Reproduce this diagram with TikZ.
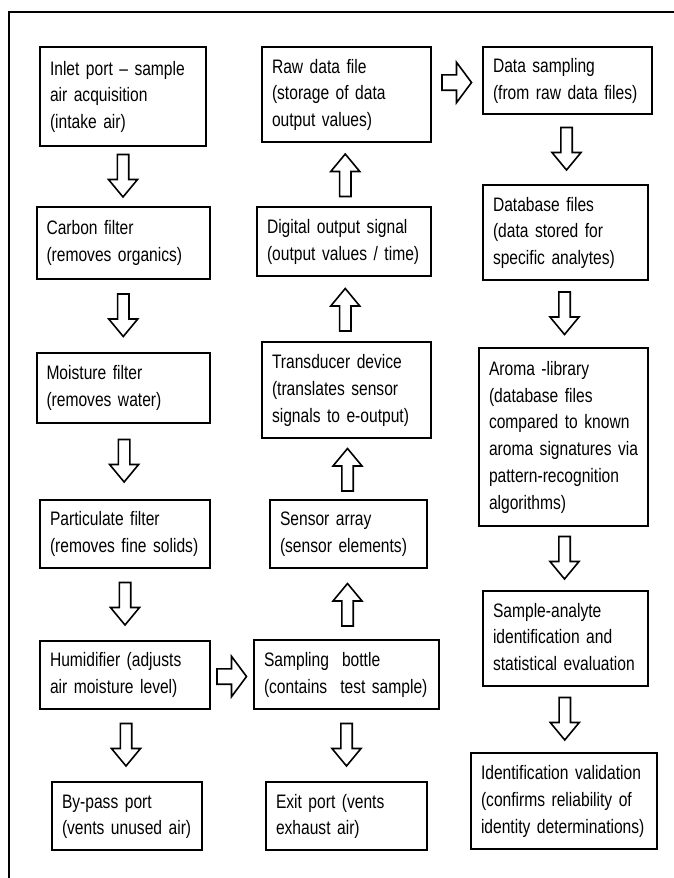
\documentclass[tikz,border=0pt]{standalone}
\usepackage{fontspec}
\setmainfont{Liberation Sans}[FakeStretch=0.80]
\usetikzlibrary{calc}
\tikzset{
  box/.style={draw, line width=2pt, align=left, inner xsep=10pt, inner ysep=0pt,
    font=\fontsize{19.5}{26.7}\selectfont, text=black},
  blk/.style={draw, fill=white, line width=1.6pt, line join=miter},
  frame/.style={line width=2pt}
}
\newcommand\boxlines[1]{\begin{tabular}{@{}l@{}}#1\end{tabular}}
% vertical block arrow pointing down, between node #1 (above) and node #2 (below)
\newcommand\arrdown[2]{%
  \draw[blk] let \p0=($(#1.south)!0.5!(#2.north)$) in
    (\x0-5.7pt,\y0+22pt) -- (\x0+5.7pt,\y0+22pt) -- (\x0+5.7pt,\y0-3pt) --
    (\x0+14.5pt,\y0-3pt) -- (\x0,\y0-20.5pt) -- (\x0-14.5pt,\y0-3pt) --
    (\x0-5.7pt,\y0-3pt) -- cycle;}
% vertical block arrow pointing up, from node #1 (below) to node #2 (above)
\newcommand\arrup[2]{%
  \draw[blk] let \p0=($(#1.north)!0.5!(#2.south)$) in
    (\x0-5.7pt,\y0-22pt) -- (\x0+5.7pt,\y0-22pt) -- (\x0+5.7pt,\y0+3pt) --
    (\x0+14.5pt,\y0+3pt) -- (\x0,\y0+20.5pt) -- (\x0-14.5pt,\y0+3pt) --
    (\x0-5.7pt,\y0+3pt) -- cycle;}
% horizontal block arrow pointing right, from node #1 to node #2
\newcommand\arrright[2]{%
  \draw[blk] let \p1=(#1.east), \p2=(#2.west), \p0=($(\p1)!0.5!(\p2)$) in
    (\x0-15pt,\y2-2pt+7.7pt) -- (\x0-0.5pt,\y2-2pt+7.7pt) --
    (\x0-0.5pt,\y2-2pt+20.2pt) -- (\x0+14.5pt,\y2-2pt) --
    (\x0-0.5pt,\y2-2pt-20.2pt) -- (\x0-0.5pt,\y2-2pt-7.7pt) --
    (\x0-15pt,\y2-2pt-7.7pt) -- cycle;}
\begin{document}
\begin{tikzpicture}[x=1pt,y=1pt]
\useasboundingbox (0,0) rectangle (674,-878);
\fill[white] (0,0) rectangle (674,-878);
\coordinate (fbl) at (9,-878);
\coordinate (ftl) at (9,-12);
\coordinate (ftr) at (674,-12);
\draw[frame] (fbl) -- (ftl) -- (ftr);

% column 1
\node[box, text width=145.5pt, minimum height=99pt] (inlet) at (122.75,-96.5)
  {\boxlines{Inlet port – sample\\air acquisition\\(intake air)}};
\node[box, text width=153.5pt, minimum height=72pt] (carbon) at (123.25,-243)
  {\boxlines{Carbon filter\\(removes organics)}};
\node[box, text width=153.5pt, minimum height=70pt] (moist) at (123.25,-388)
  {\boxlines{Moisture filter\\(removes water)}};
\node[box, text width=150pt, minimum height=68pt] (partic) at (125,-534)
  {\boxlines{Particulate filter\\(removes fine solids)}};
\node[box, text width=150pt, minimum height=68pt] (humid) at (125,-675)
  {\boxlines{Humidifier (adjusts\\air moisture level)}};
\node[box, text width=130pt, minimum height=68pt] (bypass) at (127,-816)
  {\boxlines{By-pass port\\(vents unused air)}};

% column 2
\node[box, text width=149pt, minimum height=95pt] (raw) at (346.5,-94.5)
  {\boxlines{Raw data file\\(storage of data\\output values)}};
\node[box, text width=154pt, minimum height=69pt] (digital) at (344,-241.5)
  {\boxlines{Digital output signal\\(output values / time)}};
\node[box, text width=149pt, minimum height=96pt] (transd) at (346.5,-390)
  {\boxlines{Transducer device\\(translates sensor\\signals to e-output)}};
\node[box, text width=137pt, minimum height=68pt] (sensor) at (348.5,-534)
  {\boxlines{Sensor array\\(sensor elements)}};
\node[box, text width=165pt, minimum height=69pt] (bottle) at (346.5,-674.5)
  {\boxlines{Sampling~ bottle\\(contains~ test sample)}};
\node[box, text width=141pt, minimum height=68pt] (exit) at (346.5,-816)
  {\boxlines{Exit port (vents\\exhaust air)}};

% column 3
\node[box, text width=149pt, minimum height=67pt] (dsamp) at (567.5,-80.5)
  {\boxlines{Data sampling\\(from raw data files)}};
\node[box, text width=145pt, minimum height=95pt] (dbase) at (565.5,-232.5)
  {\boxlines{Database files\\(data stored for\\specific analytes)}};
\node[box, text width=149pt, minimum height=178pt] (aroma) at (563.5,-437)
  {\boxlines{Aroma -library\\(database files\\compared to known\\aroma signatures via\\pattern-recognition\\algorithms)}};
\node[box, text width=145pt, minimum height=95pt] (sana) at (565.5,-638.5)
  {\boxlines{Sample-analyte\\identification and\\statistical evaluation}};
\node[box, text width=166pt, minimum height=96pt] (ident) at (564,-801)
  {\boxlines{Identification validation\\(confirms reliability of\\identity determinations)}};

% arrows
\arrdown{inlet}{carbon}
\arrdown{carbon}{moist}
\arrdown{moist}{partic}
\arrdown{partic}{humid}
\arrdown{humid}{bypass}
\arrright{humid}{bottle}
\arrup{bottle}{sensor}
\arrup{sensor}{transd}
\arrup{transd}{digital}
\arrup{digital}{raw}
\arrdown{bottle}{exit}
\arrright{raw}{dsamp}
\arrdown{dsamp}{dbase}
\arrdown{dbase}{aroma}
\arrdown{aroma}{sana}
\arrdown{sana}{ident}
\end{tikzpicture}
\end{document}
